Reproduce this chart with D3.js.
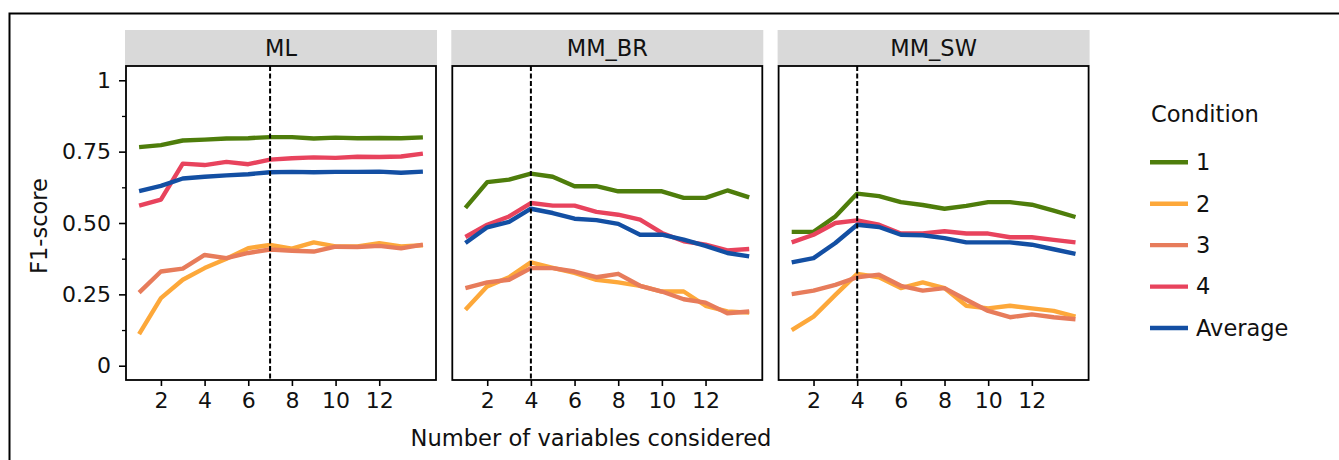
<!DOCTYPE html>
<html>
<head>
<meta charset="utf-8">
<script src="https://cdn.jsdelivr.net/npm/d3@7"></script>
<style>
  body { margin: 0; background: #fff; }
  svg { display: block; font-family: "DejaVu Sans", sans-serif; }
  .tick text { font-family: "DejaVu Sans", sans-serif; }
</style>
</head>
<body>
<svg id="chart" width="1339" height="460"></svg>
<script>
// number of variables (x)
var nVars = [1, 2, 3, 4, 5, 6, 7, 8, 9, 10, 11, 12, 13, 14];

var panels = ["ML", "MM_BR", "MM_SW"];
var cutoffs = [7, 4, 4];

var conditions = ["1", "2", "3", "4", "Average"];
var colors = ["#4e7d0b", "#fda83a", "#e77c5b", "#e8435d", "#134fa3"];

var xTicks = [2, 4, 6, 8, 10, 12];
var yTicks = [0, 0.25, 0.5, 0.75, 1];
var yTickLabels = ["0", "0.25", "0.50", "0.75", "1"];
var yMinor = [0.125, 0.375, 0.625, 0.875];

// ML
var ml1   = [0.766, 0.773, 0.789, 0.792, 0.796, 0.797, 0.801, 0.801, 0.796, 0.799, 0.797, 0.798, 0.797, 0.800];
var ml2   = [0.111, 0.237, 0.301, 0.342, 0.375, 0.412, 0.423, 0.410, 0.432, 0.418, 0.418, 0.429, 0.418, 0.422];
var ml3   = [0.256, 0.330, 0.340, 0.388, 0.377, 0.395, 0.407, 0.403, 0.400, 0.417, 0.416, 0.420, 0.411, 0.424];
var ml4   = [0.561, 0.582, 0.708, 0.703, 0.714, 0.706, 0.722, 0.727, 0.730, 0.728, 0.732, 0.731, 0.733, 0.743];
var mlAvg = [0.612, 0.630, 0.656, 0.662, 0.667, 0.671, 0.678, 0.679, 0.678, 0.679, 0.679, 0.680, 0.676, 0.680];

// MM_BR
var br1   = [0.553, 0.643, 0.652, 0.673, 0.662, 0.629, 0.629, 0.611, 0.611, 0.611, 0.588, 0.588, 0.614, 0.590];
var br2   = [0.196, 0.278, 0.310, 0.362, 0.343, 0.325, 0.301, 0.292, 0.280, 0.260, 0.260, 0.210, 0.190, 0.186];
var br3   = [0.272, 0.292, 0.301, 0.342, 0.342, 0.330, 0.310, 0.322, 0.280, 0.260, 0.233, 0.221, 0.184, 0.190];
var br4   = [0.451, 0.494, 0.523, 0.570, 0.561, 0.561, 0.539, 0.529, 0.512, 0.465, 0.436, 0.424, 0.404, 0.409];
var brAvg = [0.430, 0.485, 0.504, 0.550, 0.535, 0.515, 0.510, 0.497, 0.459, 0.459, 0.442, 0.420, 0.395, 0.383];

// MM_SW
var sw1   = [0.469, 0.469, 0.523, 0.603, 0.594, 0.573, 0.563, 0.550, 0.560, 0.573, 0.573, 0.564, 0.543, 0.521];
var sw2   = [0.125, 0.172, 0.248, 0.322, 0.310, 0.272, 0.292, 0.272, 0.210, 0.201, 0.210, 0.201, 0.192, 0.172];
var sw3   = [0.251, 0.263, 0.283, 0.310, 0.319, 0.280, 0.263, 0.272, 0.231, 0.192, 0.170, 0.180, 0.170, 0.163];
var sw4   = [0.432, 0.459, 0.500, 0.509, 0.494, 0.463, 0.463, 0.471, 0.463, 0.463, 0.450, 0.450, 0.441, 0.432];
var swAvg = [0.362, 0.377, 0.430, 0.494, 0.486, 0.459, 0.457, 0.447, 0.432, 0.432, 0.432, 0.424, 0.408, 0.392];

var panelData = [
  [ml1, ml2, ml3, ml4, mlAvg],
  [br1, br2, br3, br4, brAvg],
  [sw1, sw2, sw3, sw4, swAvg]
];

var svg = d3.select("#chart");

// outer frame (cropped at right / bottom)
svg.append("rect")
  .attr("x", 9.5).attr("y", 13.5)
  .attr("width", 1400).attr("height", 500)
  .attr("fill", "none")
  .attr("stroke", "#000")
  .attr("stroke-width", 2);

var panelLeft = 126, panelStep = 326.3, panelW = 310;
var panelTop = 66, panelH = 314;
var stripH = 36;

var x = d3.scaleLinear().domain([0.4, 14.6]).range([0, panelW]);
var y = d3.scaleLinear().domain([-0.05, 1.05]).range([panelH, 0]);

var line = d3.line()
  .x(function(d, i) { return x(nVars[i]); })
  .y(function(d) { return y(d); });

var fs = 22;
var ink = "#111";

panels.forEach(function(name, p) {
  var g = svg.append("g")
    .attr("transform", "translate(" + (panelLeft + p * panelStep) + "," + panelTop + ")");

  // strip
  g.append("rect")
    .attr("x", -1).attr("y", -stripH)
    .attr("width", panelW + 2).attr("height", stripH)
    .attr("fill", "#d9d9d9");
  g.append("text")
    .attr("x", panelW / 2).attr("y", -10)
    .attr("text-anchor", "middle")
    .attr("font-size", 22.5)
    .attr("fill", ink)
    .text(name);

  g.append("clipPath").attr("id", "clip" + p)
    .append("rect").attr("width", panelW).attr("height", panelH);

  var lines = g.append("g").attr("clip-path", "url(#clip" + p + ")");

  panelData[p].forEach(function(series, c) {
    lines.append("path")
      .datum(series)
      .attr("d", line)
      .attr("fill", "none")
      .attr("stroke", colors[c])
      .attr("stroke-width", 4.4)
      .attr("stroke-linejoin", "round");
  });

  // dashed cutoff
  g.append("line")
    .attr("x1", x(cutoffs[p])).attr("x2", x(cutoffs[p]))
    .attr("y1", 0).attr("y2", panelH)
    .attr("stroke", "#000")
    .attr("stroke-width", 2)
    .attr("stroke-dasharray", "5,2.5");

  // border
  g.append("rect")
    .attr("width", panelW).attr("height", panelH)
    .attr("fill", "none")
    .attr("stroke", "#000")
    .attr("stroke-width", 1.8);

  // x axis
  var xa = g.append("g")
    .attr("transform", "translate(0," + panelH + ")")
    .call(d3.axisBottom(x).tickValues(xTicks).tickSize(6).tickPadding(6));
  xa.select(".domain").remove();
  xa.selectAll(".tick line").attr("stroke", "#000").attr("stroke-width", 1.6);
  xa.selectAll(".tick text").attr("font-size", fs).attr("fill", ink);

  // y axis (first panel only)
  if (p === 0) {
    var ya = g.append("g")
      .call(d3.axisLeft(y).tickValues(yTicks)
        .tickFormat(function(d, i) { return yTickLabels[i]; })
        .tickSize(7).tickPadding(8));
    ya.select(".domain").remove();
    ya.selectAll(".tick line").attr("stroke", "#000").attr("stroke-width", 1.6);
    ya.selectAll(".tick text").attr("font-size", fs).attr("fill", ink);

    var ym = g.append("g")
      .call(d3.axisLeft(y).tickValues(yMinor).tickSize(4).tickFormat(""));
    ym.select(".domain").remove();
    ym.selectAll(".tick line").attr("stroke", "#000").attr("stroke-width", 1.3);
  }
});

// axis titles
svg.append("text")
  .attr("x", 591).attr("y", 446)
  .attr("text-anchor", "middle")
  .attr("font-size", 22.6)
  .attr("fill", ink)
  .text("Number of variables considered");

svg.append("text")
  .attr("transform", "translate(47,226) rotate(-90)")
  .attr("text-anchor", "middle")
  .attr("font-size", 22.5)
  .attr("fill", ink)
  .text("F1-score");

// legend
var legend = svg.append("g").attr("transform", "translate(1150,0)");
legend.append("text")
  .attr("x", 1).attr("y", 121.5)
  .attr("font-size", 22.6)
  .attr("fill", ink)
  .text("Condition");

var legendY = d3.scaleLinear().domain([0, 4]).range([162.3, 328]);

conditions.forEach(function(cond, i) {
  var item = legend.append("g").attr("transform", "translate(0," + legendY(i) + ")");
  item.append("line")
    .attr("x1", 0).attr("x2", 38)
    .attr("stroke", colors[i])
    .attr("stroke-width", 4.4);
  item.append("text")
    .attr("x", 46).attr("y", 0)
    .attr("dy", "0.35em")
    .attr("font-size", 22.5)
    .attr("fill", ink)
    .text(cond);
});
</script>
</body>
</html>
